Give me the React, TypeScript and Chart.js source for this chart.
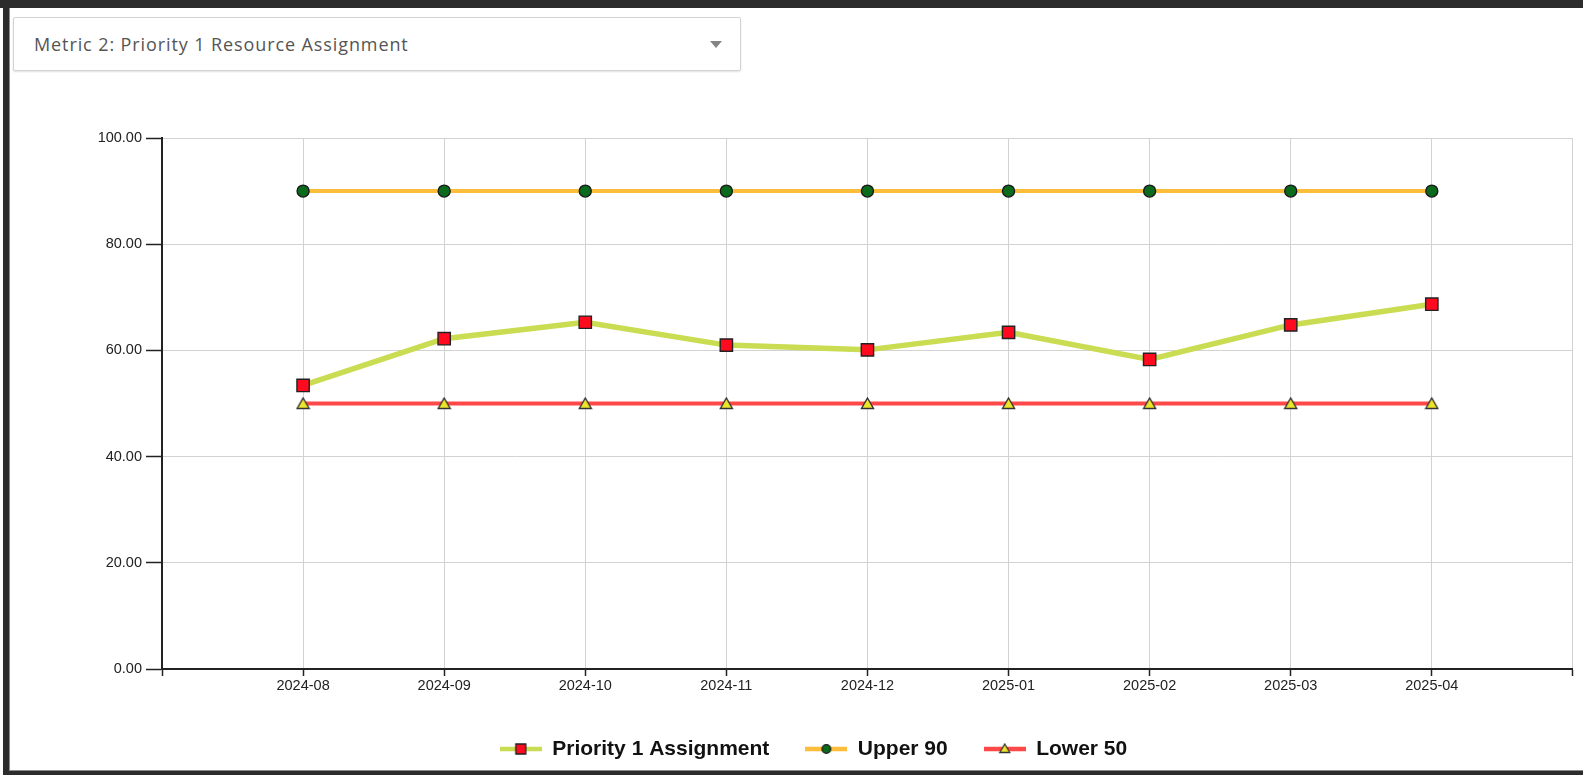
import React, { useEffect, useRef } from 'react';
import { Chart, registerables } from 'chart.js';

Chart.register(...registerables);

// ---- data ----
const categories = ['2024-08', '2024-09', '2024-10', '2024-11', '2024-12', '2025-01', '2025-02', '2025-03', '2025-04'];
const priorityValues = [53.4, 62.2, 65.3, 61.0, 60.1, 63.4, 58.3, 64.8, 68.7];
const upperValues = [90, 90, 90, 90, 90, 90, 90, 90, 90];
const lowerValues = [50, 50, 50, 50, 50, 50, 50, 50, 50];
const yTickValues = [0, 20, 40, 60, 80, 100];
const seriesNames = ['Priority 1 Assignment', 'Upper 90', 'Lower 50'];
const titleText = 'Metric 2: Priority 1 Resource Assignment';

// padded axis labels (empty slot at each end)
const xLabels = ['', ...categories, ''];
const pad = (arr: number[]) => [null, ...arr, null];

type MarkerKind = 'rect' | 'circle' | 'triangle';

function makeLegendIcon(lineColor: string, kind: MarkerKind, fill: string, stroke: string): HTMLCanvasElement {
  const c = document.createElement('canvas');
  c.width = 42;
  c.height = 14;
  const ctx = c.getContext('2d')!;
  const cy = 7;
  ctx.strokeStyle = lineColor;
  ctx.lineWidth = 4.5;
  ctx.beginPath();
  ctx.moveTo(0, cy);
  ctx.lineTo(42, cy);
  ctx.stroke();
  ctx.fillStyle = fill;
  ctx.strokeStyle = stroke;
  ctx.lineWidth = 1.3;
  ctx.beginPath();
  if (kind === 'rect') {
    ctx.rect(21 - 5, cy - 5, 10, 10);
  } else if (kind === 'circle') {
    ctx.arc(21, cy, 4.3, 0, Math.PI * 2);
  } else {
    ctx.moveTo(21, cy - 5);
    ctx.lineTo(26, cy + 3.5);
    ctx.lineTo(16, cy + 3.5);
    ctx.closePath();
  }
  ctx.fill();
  ctx.stroke();
  return c;
}

// triangle marker centred on its point
function makeTriangleMarker(fill: string, stroke: string): HTMLCanvasElement {
  const c = document.createElement('canvas');
  c.width = 15;
  c.height = 13;
  const ctx = c.getContext('2d')!;
  ctx.fillStyle = fill;
  ctx.strokeStyle = stroke;
  ctx.lineWidth = 1.4;
  ctx.beginPath();
  ctx.moveTo(7.5, 1);
  ctx.lineTo(13.5, 11.5);
  ctx.lineTo(1.5, 11.5);
  ctx.closePath();
  ctx.fill();
  ctx.stroke();
  return c;
}

const ChartCanvas: React.FC = () => {
  const ref = useRef<HTMLCanvasElement | null>(null);

  useEffect(() => {
    if (!ref.current) return;
    const icons = [
      makeLegendIcon('#c9dc52', 'rect', '#ff0a1e', '#222'),
      makeLegendIcon('#fbbd3a', 'circle', '#0b6b1c', '#1a1a1a'),
      makeLegendIcon('#ff4848', 'triangle', '#ece52a', '#333'),
    ];
    const triMarker = makeTriangleMarker('#ece52a', '#333');
    const tickFont = { family: '"Liberation Sans", Arial, sans-serif', size: 14.5 };
    const chart = new Chart(ref.current, {
      type: 'line',
      data: {
        labels: xLabels,
        datasets: [
          {
            label: seriesNames[0],
            data: pad(priorityValues),
            borderColor: '#c9dc52',
            backgroundColor: '#c9dc52',
            borderWidth: 5.5,
            pointStyle: 'rect',
            pointRadius: 8.7,
            pointBackgroundColor: '#ff0a1e',
            pointBorderColor: '#222',
            pointBorderWidth: 1.4,
            tension: 0,
          },
          {
            label: seriesNames[1],
            data: pad(upperValues),
            borderColor: '#fbbd3a',
            backgroundColor: '#fbbd3a',
            borderWidth: 4,
            pointStyle: 'circle',
            pointRadius: 6,
            pointBackgroundColor: '#0b6b1c',
            pointBorderColor: '#1a1a1a',
            pointBorderWidth: 1.4,
            tension: 0,
          },
          {
            label: seriesNames[2],
            data: pad(lowerValues),
            borderColor: '#ff4848',
            backgroundColor: '#ff4848',
            borderWidth: 4,
            pointStyle: triMarker,
            pointRadius: 7,
            pointBackgroundColor: '#ece52a',
            pointBorderColor: '#333',
            pointBorderWidth: 1.4,
            tension: 0,
          },
        ],
      },
      options: {
        animation: false,
        responsive: false,
        maintainAspectRatio: false,
        events: [],
        layout: { padding: { left: 42, right: 7, top: 58, bottom: 1.5 } },
        scales: {
          x: {
            type: 'category',
            offset: false,
            grid: { color: '#d2d2d2', lineWidth: 1, tickColor: '#222', tickLength: 7, tickWidth: 1.5 },
            border: { color: '#222', width: 2 },
            ticks: { autoSkip: false, maxRotation: 0, font: tickFont, color: '#222', padding: 1 },
            afterFit: (s: any) => { s.height = 33.5; },
          },
          y: {
            min: 0,
            max: 100,
            grid: { color: '#d2d2d2', lineWidth: 1, tickColor: '#222', tickLength: 16, tickWidth: 1.5 },
            border: { color: '#222', width: 2 },
            ticks: {
              font: tickFont,
              color: '#222',
              padding: 4,
              callback: (v: any) => Number(v).toFixed(2),
            },
            afterBuildTicks: (s: any) => { s.ticks = yTickValues.map((v) => ({ value: v })); },
            afterFit: (s: any) => { s.width = 111; },
          },
        },
        plugins: {
          title: { display: false },
          tooltip: { enabled: false },
          legend: {
            display: true,
            position: 'bottom',
            labels: {
              usePointStyle: true,
              pointStyleWidth: 42,
              padding: 36,
              color: '#111',
              font: { family: '"Liberation Sans", Arial, sans-serif', size: 21, weight: 'bold' },
              generateLabels: (ch: any) =>
                ch.data.datasets.map((d: any, i: number) => ({
                  text: d.label,
                  pointStyle: icons[i],
                  fillStyle: 'transparent',
                  strokeStyle: 'transparent',
                  lineWidth: 0,
                  hidden: false,
                  datasetIndex: i,
                  fontColor: '#111',
                })),
            },
          },
        },
      } as any,
    });
    return () => chart.destroy();
  }, []);

  return <canvas ref={ref} width={1574} height={691} style={{ position: 'absolute', left: 9, top: 80, width: 1574, height: 691 }} />;
};

export default function App() {
  useEffect(() => {
    document.body.style.margin = '0';
    document.body.style.overflow = 'hidden';
  }, []);
  return (
    <div style={{ position: 'relative', width: 1583, height: 775, background: '#fff', overflow: 'hidden' }}>
      {/* frame */}
      <div style={{ position: 'absolute', left: 0, top: 0, width: 1583, height: 8, background: '#2c2c2c' }} />
      <div style={{ position: 'absolute', left: 3, top: 0, width: 6, height: 775, background: '#2c2c2c' }} />
      <div style={{ position: 'absolute', left: 9, top: 8, width: 1, height: 763, background: '#8a8a8a' }} />
      <div style={{ position: 'absolute', left: 3, top: 771, width: 1580, height: 4, background: '#2c2c2c' }} />
      <div style={{ position: 'absolute', left: 9, top: 770, width: 1574, height: 1, background: '#8a8a8a' }} />
      {/* dropdown */}
      <div
        style={{
          position: 'absolute',
          left: 13,
          top: 17,
          width: 728,
          height: 54,
          boxSizing: 'border-box',
          border: '1px solid #d3d3d3',
          borderRadius: 2,
          boxShadow: '0 1px 2px rgba(0,0,0,0.12)',
          background: '#fff',
        }}
      >
        <div
          style={{
            position: 'absolute',
            left: 20,
            top: 0,
            height: 52,
            lineHeight: '52px',
            fontFamily: '"Open Sans", "Noto Sans", sans-serif',
            fontSize: 18,
            letterSpacing: '0.9px',
            color: '#555',
            whiteSpace: 'nowrap',
          }}
        >
          {titleText}
        </div>
        <div
          style={{
            position: 'absolute',
            left: 696,
            top: 23,
            width: 0,
            height: 0,
            borderLeft: '6px solid transparent',
            borderRight: '6px solid transparent',
            borderTop: '7px solid #858585',
          }}
        />
      </div>
      <ChartCanvas />
    </div>
  );
}
